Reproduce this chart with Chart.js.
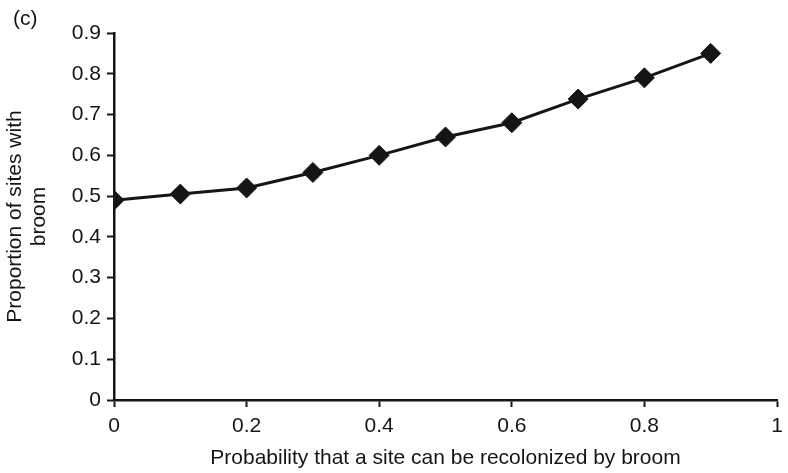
<!DOCTYPE html>
<html>
<head>
<meta charset="utf-8">
<script src="https://cdn.jsdelivr.net/npm/chart.js@4"></script>
<style>
  html, body { margin: 0; padding: 0; background: #fff; }
  #wrap { width: 788px; height: 473px; }
</style>
</head>
<body>
<div id="wrap"><canvas id="broomChart" width="788" height="473"></canvas></div>
<script>
// Anteil der Standorte mit Ginster gegen Wiederbesiedlungswahrscheinlichkeit (Panel c)
const recolonProb = [0, 0.1, 0.2, 0.3, 0.4, 0.5, 0.6, 0.7, 0.8, 0.9];
const propWithBroom = [0.49, 0.505, 0.52, 0.558, 0.60, 0.645, 0.68, 0.738, 0.79, 0.85];
const xTickLabels = { 0: '0', 0.2: '0.2', 0.4: '0.4', 0.6: '0.6', 0.8: '0.8', 1: '1' };
const panelLabel = '(c)';
const xTitle = 'Probability that a site can be recolonized by broom';
const yTitle = ['Proportion of sites with', 'broom'];

const ink = '#151515';
const fontFam = '"Liberation Sans", Arial, Helvetica, sans-serif';
const fs = 21;

const panelLabelPlugin = {
  id: 'panelLabel',
  afterDraw(chart) {
    const ctx = chart.ctx;
    ctx.save();
    ctx.font = fs + 'px ' + fontFam;
    ctx.fillStyle = ink;
    ctx.textAlign = 'left';
    ctx.textBaseline = 'middle';
    ctx.fillText(panelLabel, 13, 19);
    ctx.restore();
  }
};

function drawBroomChart() {
  new Chart(document.getElementById('broomChart'), {
    type: 'line',
    data: {
      datasets: [{
        data: recolonProb.map((p, i) => ({ x: p, y: propWithBroom[i] })),
        borderColor: ink,
        borderWidth: 3,
        tension: 0,
        fill: false,
        pointStyle: 'rectRot',
        pointRadius: 10,
        pointBackgroundColor: ink,
        pointBorderColor: ink,
        pointBorderWidth: 1
      }]
    },
    options: {
      responsive: false,
      animation: false,
      layout: { padding: { top: 33, right: 0, bottom: 0, left: 0 } },
      plugins: {
        legend: { display: false },
        tooltip: { enabled: false }
      },
      scales: {
        x: {
          type: 'linear',
          min: 0,
          max: 1,
          afterFit: s => { s.height = 73; s.paddingRight = 0; },
          ticks: {
            stepSize: 0.2,
            color: ink,
            padding: 7,
            font: { family: fontFam, size: fs },
            callback: v => xTickLabels[Math.round(v * 10) / 10] ?? ''
          },
          grid: { drawOnChartArea: false, tickLength: 7, tickColor: ink, tickWidth: 2 },
          border: { color: ink, width: 2.5 },
          title: {
            display: true,
            text: xTitle,
            color: ink,
            padding: { top: 0, bottom: 3 },
            font: { family: fontFam, size: fs, lineHeight: 1.15 }
          }
        },
        y: {
          min: 0,
          max: 0.9,
          afterFit: s => { s.width = 114; },
          ticks: { stepSize: 0.1, color: ink, padding: 6, font: { family: fontFam, size: fs } },
          grid: { drawOnChartArea: false, tickLength: 7, tickColor: ink, tickWidth: 2 },
          border: { color: ink, width: 2.5 },
          title: {
            display: true,
            text: yTitle,
            color: ink,
            padding: { top: 3, bottom: 0 },
            font: { family: fontFam, size: fs, lineHeight: 1.15 }
          }
        }
      }
    },
    plugins: [panelLabelPlugin]
  });
}

drawBroomChart();
</script>
</body>
</html>
